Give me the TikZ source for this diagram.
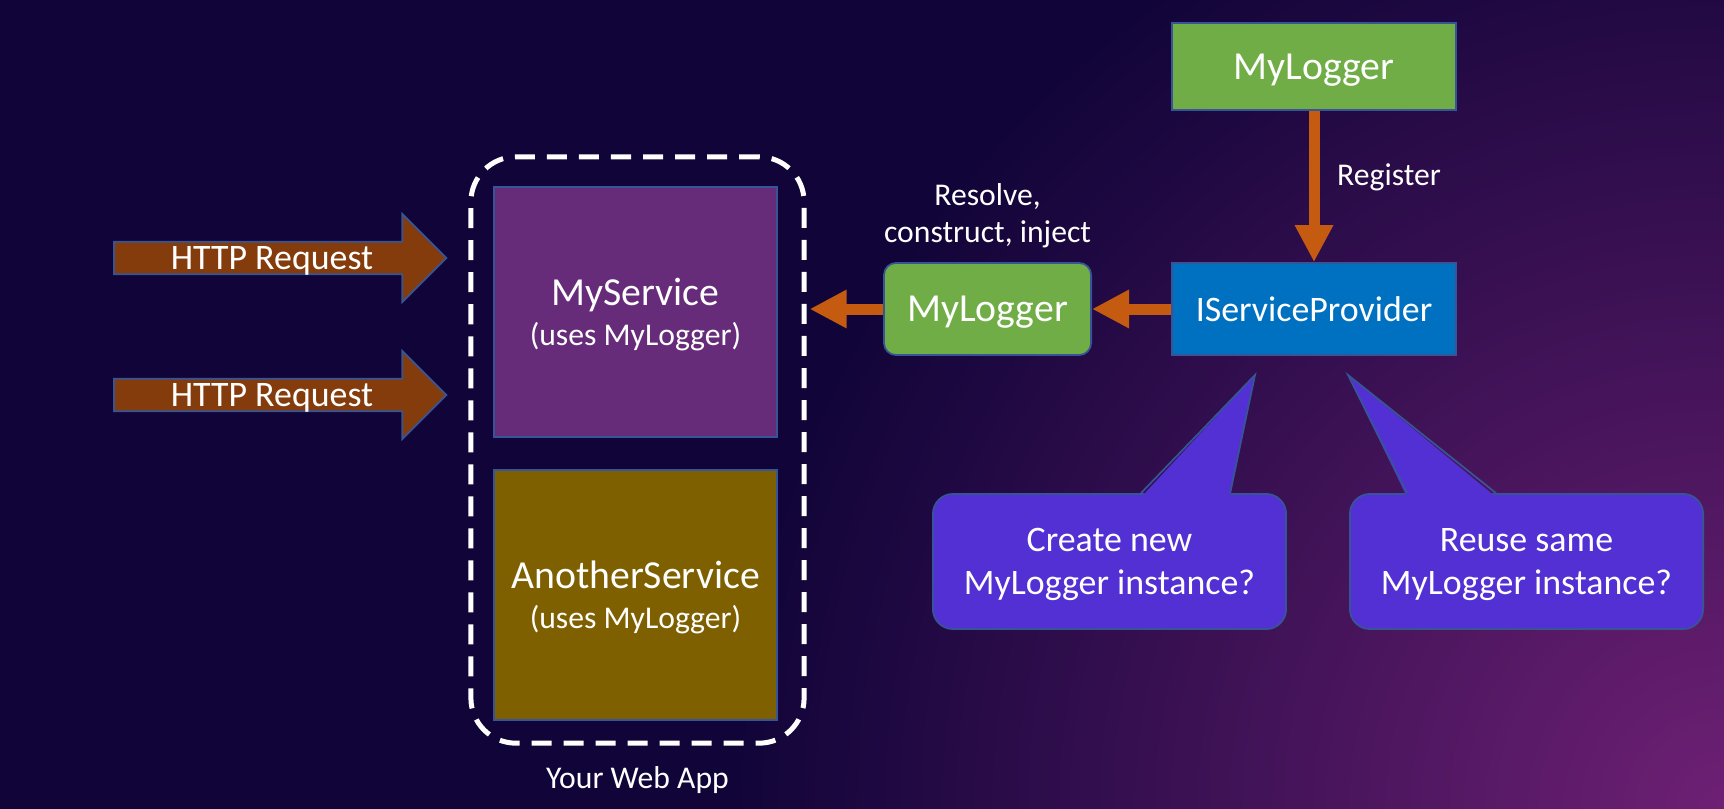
\documentclass[tikz,border=0pt]{standalone}
\usepackage{fontspec}
\setmainfont{Carlito}
\usepackage{xcolor}
\usetikzlibrary{shapes.arrows, arrows.meta, positioning}
\definecolor{figbgdark}{RGB}{16,4,56}
\definecolor{figbgglow}{RGB}{110,32,116}
\definecolor{figbrown}{RGB}{132,60,12}
\definecolor{figpurple}{RGB}{102,44,122}
\definecolor{figolive}{RGB}{127,96,0}
\definecolor{figgreen}{RGB}{112,173,71}
\definecolor{figblue}{RGB}{0,112,192}
\definecolor{figorange}{RGB}{197,90,17}
\definecolor{figcallout}{RGB}{82,48,212}
\definecolor{figedge}{RGB}{55,85,150}
\newcommand{\szbig}{\fontsize{11.3}{13.5}\selectfont}
\newcommand{\szmid}{\fontsize{10.2}{12.2}\selectfont}
\newcommand{\szsmall}{\fontsize{9}{10.5}\selectfont}
\tikzstyle{reqarrow} = [single arrow, single arrow head extend=0.21cm,
single arrow tip angle=90, fill=figbrown, draw=figedge, line width=0.5pt,
minimum width=0.88cm, minimum height=3.32cm, inner sep=0pt,
text depth=0pt, text=white, font=\szmid]
\tikzstyle{svcbox} = [rectangle, draw=figedge, line width=0.5pt,
minimum width=2.83cm, minimum height=2.5cm, text depth=0pt,
align=center, text=white, font=\szbig]
\tikzstyle{dibox} = [rectangle, draw=figedge, line width=0.5pt,
minimum height=0.92cm, text depth=0pt, text=white, font=\szbig]
\tikzstyle{callbox} = [rectangle, rounded corners=0.2cm,
fill=figcallout, draw=figedge, line width=0.5pt,
minimum width=3.53cm, minimum height=1.35cm, text depth=0pt,
align=center, text=white, font=\szmid]
\tikzstyle{appbox} = [rectangle, rounded corners=0.45cm, draw=white,
dash pattern=on 0.2cm off 0.12cm, line width=0.05cm,
minimum width=3.33cm, minimum height=5.86cm]
\tikzstyle{lbl} = [text=white, font=\szsmall, align=center]
\tikzstyle{conn} = [-{Triangle[length=0.37cm, width=0.36cm]},
line width=0.11cm, draw=figorange]

\begin{document}
\begin{tikzpicture}[x=0.01cm, y=-0.01cm, node distance=0.5cm]
    \useasboundingbox (0,0) rectangle (1724,809);
    \begin{scope}
        \clip (0,0) rectangle (1724,809);
        \fill[figbgdark] (0,0) rectangle (1724,809);
        \shade[inner color=figbgglow, outer color=figbgdark] (1724,809) circle (1000);
    \end{scope}

    \node (reqA) [reqarrow] at (272,258) {HTTP Request};
    \node (reqB) [reqarrow] at (272,395) {HTTP Request};

    \node (webapp) [appbox] at (637.5,450) {};
    \node (svcA) [svcbox, fill=figpurple] at (635.5,312)
    {MyService\\[-2pt]{\szsmall (uses MyLogger)}};
    \node (svcB) [svcbox, fill=figolive, below=0.31cm of svcA]
    {AnotherService\\[-2pt]{\szsmall (uses MyLogger)}};
    \node (applbl) [lbl, below=0.08cm of webapp] {Your Web App};

    \node (provider) [dibox, fill=figblue, minimum width=2.84cm, font=\szmid]
    at (1314,309) {IServiceProvider};
    \node (loggerA) [dibox, fill=figgreen, minimum width=2.84cm,
    minimum height=0.87cm, above=1.51cm of provider] {MyLogger};
    \node (loggerB) [dibox, fill=figgreen, rounded corners=0.12cm,
    minimum width=2.07cm, left=0.79cm of provider] {MyLogger};
    \node (resolve) [lbl, above=0.02cm of loggerB] {Resolve,\\construct, inject};

    \node (callA) [callbox] at (1109.5,561.5) {Create new\\MyLogger instance?};
    \node (callB) [callbox] at (1526.5,561.5) {Reuse same\\MyLogger instance?};
    \coordinate (tipA) at (1255,375);
    \coordinate (tipB) at (1348,375);
    \fill[figcallout] ([xshift=0.315cm, yshift=-0.04cm]callA.north) -- (tipA)
    -- ([xshift=1.205cm, yshift=-0.04cm]callA.north) -- cycle;
    \draw[figedge, line width=0.5pt] ([xshift=0.315cm]callA.north) -- (tipA)
    -- ([xshift=1.205cm]callA.north);
    \fill[figcallout] ([xshift=-1.195cm, yshift=-0.04cm]callB.north) -- (tipB)
    -- ([xshift=-0.305cm, yshift=-0.04cm]callB.north) -- cycle;
    \draw[figedge, line width=0.5pt] ([xshift=-1.195cm]callB.north) -- (tipB)
    -- ([xshift=-0.305cm]callB.north);

    \draw[conn] (loggerA) -- node[lbl, pos=0.44, right=0.06cm] {Register} (provider);
    \draw[conn] (provider) -- (loggerB);
    \draw[conn, shorten >=0.03cm] (loggerB) -- (loggerB -| webapp.east);
\end{tikzpicture}
\end{document}
